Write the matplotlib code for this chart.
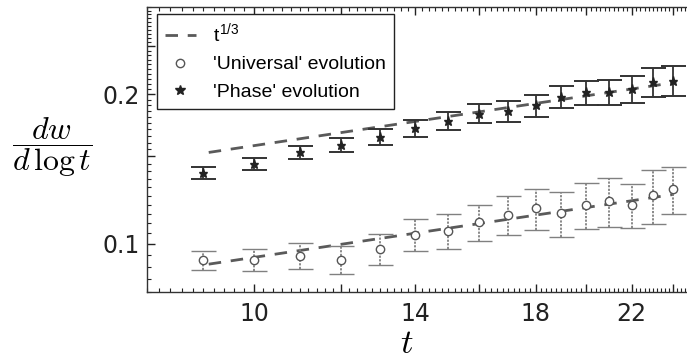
import numpy as np
import matplotlib
matplotlib.use("Agg")
import matplotlib.pyplot as plt
from matplotlib.lines import Line2D
from matplotlib.ticker import FixedLocator, FuncFormatter, NullFormatter

plt.rcParams["mathtext.fontset"] = "cm"

# Time steps
t = [9, 10, 11, 12, 13, 14, 15, 16, 17, 18, 19, 20, 21, 22, 23, 24]

# 'Phase' evolution: dw/dlog t and error
phase = [0.139, 0.145, 0.153, 0.158, 0.164, 0.171, 0.177, 0.183,
         0.185, 0.190, 0.198, 0.202, 0.202, 0.205, 0.212, 0.213]
phase_err = [0.0036, 0.0039, 0.0045, 0.0051, 0.0060, 0.0066, 0.0071, 0.0079,
             0.0087, 0.0097, 0.0104, 0.0113, 0.0120, 0.0130, 0.0140, 0.0148]

# 'Universal' evolution: dw/dlog t and error
universal = [0.0926, 0.0930, 0.0947, 0.0930, 0.0977, 0.1044, 0.1063, 0.1105,
             0.1145, 0.1179, 0.1152, 0.1198, 0.1218, 0.1199, 0.1254, 0.1289]
universal_err = [0.0041, 0.0048, 0.0055, 0.0061, 0.0070, 0.0077, 0.0086, 0.0093,
                 0.0101, 0.0113, 0.0121, 0.0128, 0.0138, 0.0122, 0.0155, 0.0142]

# t^(1/3) reference curves: prefactors and time span
phase_amp = 0.0732
universal_amp = 0.0436
fit_span = [9.1, 24.0]

W, H = 687, 362
fig = plt.figure(figsize=(W / 100, H / 100), dpi=100)
ax = fig.add_axes([147 / W, 70 / H, (693 - 147) / W, (355 - 70) / H])
ax.set_xscale("log")
ax.set_yscale("log")

tt = np.geomspace(fit_span[0], fit_span[1], 50)
dash = dict(color="#5a5a5a", lw=2.0, dashes=(4.5, 3.5))
ax.plot(tt, phase_amp * tt ** (1 / 3), **dash)
ax.plot(tt, universal_amp * tt ** (1 / 3), **dash)

# error bars
eb_u = ax.errorbar(t, universal, yerr=universal_err, fmt="o", ms=6,
                   mfc="white", mec="#555555", mew=1.0,
                   ecolor="#808080", elinewidth=1.3, capsize=9, capthick=1.3)
eb_u[2][0].set_linestyle((0, (1.2, 0.8)))
ax.errorbar(t, phase, yerr=phase_err, fmt="*", ms=6.5,
            mfc="#222222", mec="#222222",
            ecolor="#333333", elinewidth=1.3, capsize=9, capthick=1.4)

ax.set_xlim(8, 25)
ax.set_ylim(0.08, 0.3)

# x ticks
xmaj = [10, 12, 14, 16, 18, 20, 22, 24]
xlab = {10: "10", 14: "14", 18: "18", 22: "22"}
ax.xaxis.set_major_locator(FixedLocator(xmaj))
ax.xaxis.set_major_formatter(FuncFormatter(lambda v, p: xlab.get(int(round(v)), "")))
ax.xaxis.set_minor_locator(FixedLocator(np.arange(8.0, 25.01, 0.2)))
ax.xaxis.set_minor_formatter(NullFormatter())

# y ticks
ymaj = [0.1, 0.15, 0.2, 0.25]
ylab = {0.1: "0.1", 0.2: "0.2"}
ax.yaxis.set_major_locator(FixedLocator(ymaj))
ax.yaxis.set_major_formatter(FuncFormatter(lambda v, p: ylab.get(round(v, 3), "")))
ax.yaxis.set_minor_locator(FixedLocator(np.arange(0.08, 0.3001, 0.005)))
ax.yaxis.set_minor_formatter(NullFormatter())

ax.tick_params(which="both", direction="in", top=True, right=False,
               labelsize=17, colors="#222222")
ax.tick_params(which="major", length=6, width=1.0)
ax.tick_params(which="minor", length=3, width=0.8)
ax.tick_params(axis="x", which="major", pad=7)
ax.tick_params(axis="y", which="major", pad=5)
for s in ax.spines.values():
    s.set_linewidth(1.0)
    s.set_color("#333333")
ax.spines["right"].set_visible(False)

# axis labels
fig.text(52 / W, 1 - 147 / H, r"$\dfrac{dw}{d\,\log t}$", fontsize=23,
         ha="center", va="center")
fig.text(407 / W, 1 - 343 / H, r"$t$", fontsize=25, ha="center", va="center")

# legend
handles = [
    Line2D([], [], color="#5a5a5a", lw=2.0, dashes=(4.5, 3.5)),
    Line2D([], [], ls="none", marker="o", ms=6, mfc="white", mec="#555555", mew=1.0),
    Line2D([], [], ls="none", marker="*", ms=7, mfc="#222222", mec="#222222"),
]
labels = [r"t$^{\mathregular{1/3}}$", "'Universal' evolution", "'Phase' evolution"]
leg = fig.legend(handles, labels, loc="upper left",
                 bbox_to_anchor=(157 / W, 1 - 14 / H), borderaxespad=0,
                 prop={"family": "Liberation Sans", "size": 14},
                 frameon=True, fancybox=False, shadow=False,
                 handlelength=1.6, handletextpad=0.9, borderpad=0.4,
                 labelspacing=0.5)
leg.get_frame().set_edgecolor("#222222")
leg.get_frame().set_linewidth(1.0)
leg.get_frame().set_alpha(1.0)

fig.savefig("out.png", dpi=100)
